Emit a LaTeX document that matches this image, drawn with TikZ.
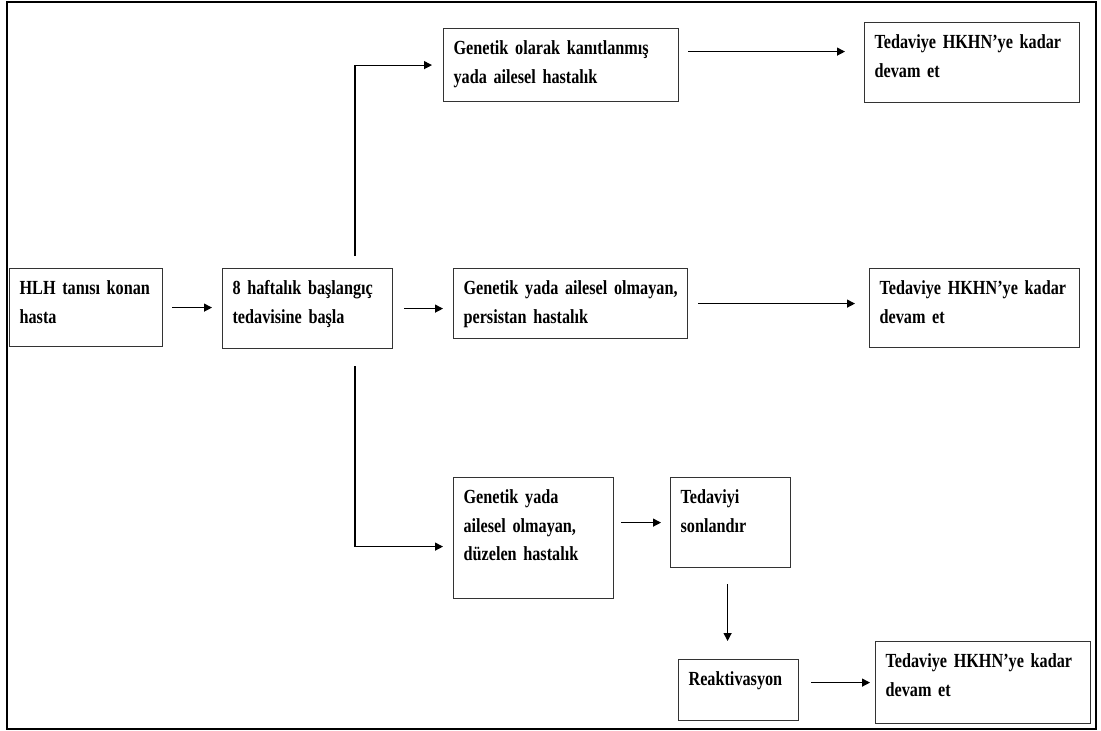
\documentclass[tikz,border=0pt]{standalone}
\usepackage{fontspec}
\setmainfont{Liberation Serif}[FakeStretch=0.81]
\usepackage{tikz}
\usetikzlibrary{arrows.meta, positioning}

\begin{document}
\begin{tikzpicture}[
    x=1pt, y=-1pt,
    box/.style={draw=black!80, line width=1.2pt, rectangle, anchor=north west, align=left,
        inner xsep=10pt, inner ysep=13.5pt, text height=12.5pt,
        font=\bfseries\fontsize{20pt}{28.5pt}\selectfont},
    arrow/.style={-{Triangle[length=8pt, width=8pt]}, line width=1.2pt}
]
\useasboundingbox (0,0) rectangle (1101,731);
\draw[line width=2pt] (7,2) rectangle (1096,729);

% Başlangıç
\node[box, text width=133pt, text depth=38.5pt] (hlh) at (9,268) {HLH tanısı konan\\hasta};
\node[box, text width=150pt, text depth=40.5pt] (bas) at (222,268) {8 haftalık başlangıç\\tedavisine başla};

% Üç dal
\node[box, text width=215pt, text depth=33.5pt] (gen) at (443,28) {Genetik olarak kanıtlanmış\\yada ailesel hastalık};
\node[box, text width=214pt, text depth=30.5pt] (per) at (453,268) {Genetik yada ailesel olmayan,\\persistan hastalık};
\node[box, text width=140pt, text depth=81.5pt] (duz) at (453,477) {Genetik yada\\ailesel olmayan,\\düzelen hastalık};

% Sağ taraf
\node[box, text width=195pt, text depth=40.5pt] (tedust) at (864,22) {Tedaviye HKHN’ye kadar\\devam et};
\node[box, text width=190pt, text depth=39.5pt] (tedorta) at (869,268) {Tedaviye HKHN’ye kadar\\devam et};
\node[box, text width=100pt, text depth=50.5pt] (son) at (670,477) {Tedaviyi\\sonlandır};
\node[box, text width=100pt, text depth=21.5pt] (rea) at (678,659) {Reaktivasyon};
\node[box, text width=195pt, text depth=42.5pt] (tedalt) at (875,641) {Tedaviye HKHN’ye kadar\\devam et};

% Oklar
\coordinate (kolust) at ([xshift=133pt, yshift=12pt]bas.north west);
\coordinate (kolalt) at ([xshift=133pt, yshift=-17pt]bas.south west);

\draw[arrow, shorten <=9pt, shorten >=10pt] (hlh.east) -- (hlh.east -| bas.west);
\draw[arrow, shorten <=11pt, shorten >=10pt] (bas.east) -- (bas.east -| per.west);
\draw[arrow, shorten >=11pt] (kolust) |- (gen.west);
\draw[arrow, shorten >=10pt] (kolalt) |- ([yshift=-8.5pt]duz.west);

\draw[arrow, shorten <=9pt, shorten >=19pt] ([yshift=13.5pt]gen.east) -- ([yshift=13.5pt]gen.east -| tedust.west);
\draw[arrow, shorten <=10pt, shorten >=14pt] (per.east) -- (per.east -| tedorta.west);
\draw[arrow, shorten <=7pt, shorten >=9pt] (son.west -| duz.east) -- (son.west);
\draw[arrow, shorten <=16pt, shorten >=18pt] ([xshift=-3pt]son.south) -- ([xshift=-3pt]son.south |- rea.north);
\draw[arrow, shorten <=12pt, shorten >=5pt] (tedalt.west -| rea.east) -- (tedalt.west);

\end{tikzpicture}
\end{document}
